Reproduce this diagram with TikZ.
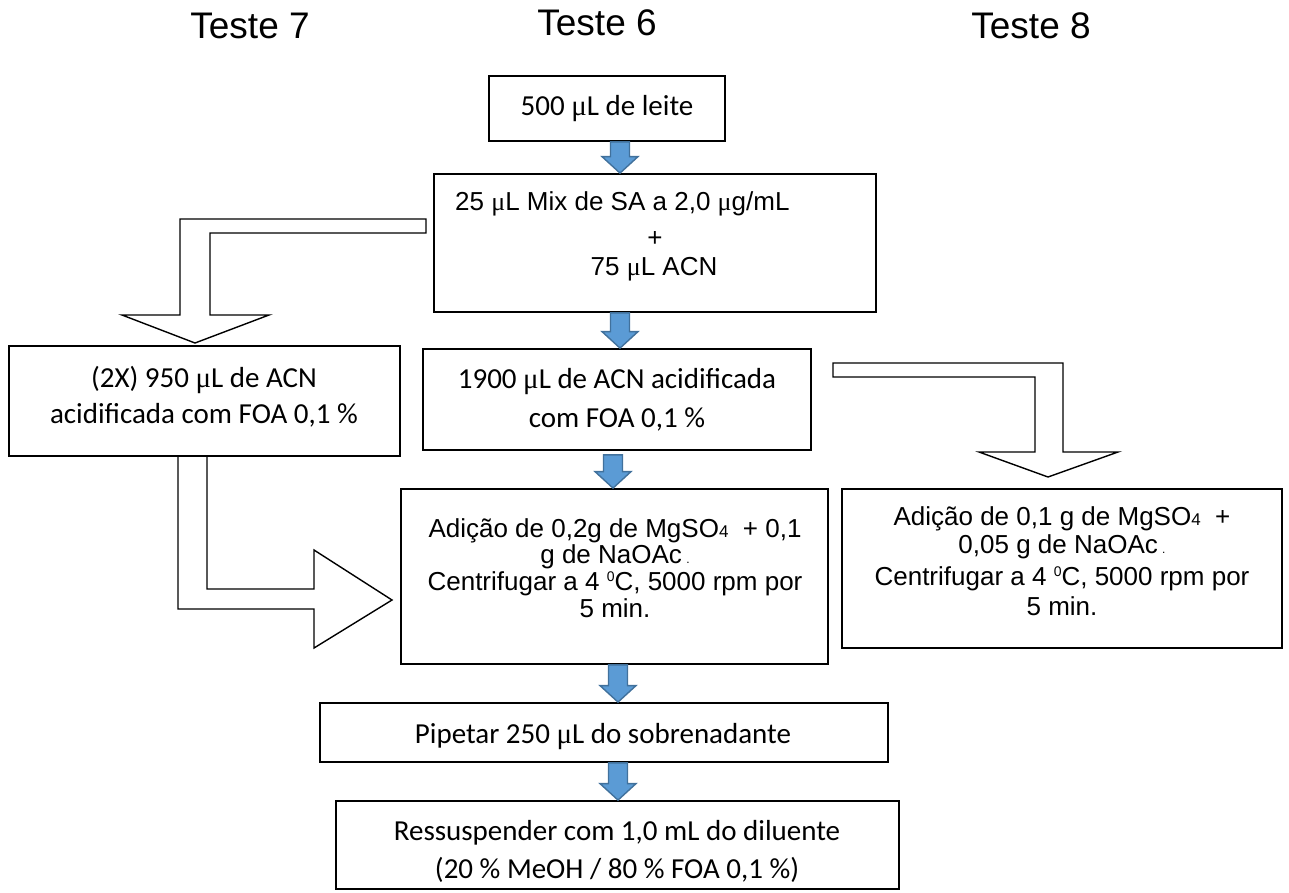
\documentclass[tikz,border=0pt]{standalone}
\usepackage{fontspec}
\setmainfont{Liberation Sans}
\newfontfamily\calib{Carlito}
\newfontfamily\grserif{Liberation Serif}
\usetikzlibrary{calc}
\definecolor{arrowfill}{HTML}{5B9BD5}
\definecolor{arrowedge}{HTML}{41719C}
% serif micro sign, as set in the lab protocol
\newcommand\mug{{\grserif μ}}
% small index digit (MgSO4)
\newcommand\idx[1]{{\fontsize{17}{17}\selectfont #1}}
% small raised zero for degrees
\newcommand\degzero{\raisebox{8.5pt}{\fontsize{14}{14}\selectfont 0}}
% tiny trailing dot after NaOAc
\newcommand\tdot{\,{\fontsize{12}{12}\selectfont .}}
% blue block arrow: start point, tip point, x position (pt)
\newcommand\bluearrow[3]{%
  \draw[blockarrow] let \p1=#1, \p2=#2 in
    ({#3pt-9.5pt},\y1) -- ({#3pt+9.5pt},\y1) -- ({#3pt+9.5pt},\y2+16.5pt)
    -- ({#3pt+18pt},\y2+16.5pt) -- (#3pt,\y2) -- ({#3pt-18pt},\y2+16.5pt)
    -- ({#3pt-9.5pt},\y2+16.5pt) -- cycle;}
\begin{document}
\begin{tikzpicture}[x=1pt,y=-1pt,
  box/.style={draw, line width=1.8pt, inner sep=0pt},
  hollow/.style={draw, fill=white, line width=1.4pt, line join=miter},
  blockarrow/.style={draw=arrowedge, fill=arrowfill, line width=1.4pt, line join=miter},
  txt/.style={inner sep=0pt, anchor=base, font=\fontsize{26}{30}\selectfont},
  ctxt/.style={inner sep=0pt, anchor=base, font=\calib\fontsize{29}{35}\selectfont},
  title/.style={inner sep=0pt, anchor=base, font=\fontsize{37}{44}\selectfont}]
\useasboundingbox (0,0) rectangle (1289,892);

% column headings
\node[title] (h7) at (250,38) {Teste 7};
\node[title] (h6) at (597,35) {Teste 6};
\node[title] (h8) at (1031,38) {Teste 8};

% bent hollow arrows between the branches
\draw[hollow] (426,219) -- (180,219) -- (180,315) -- (122,315) -- (195,343)
  -- (269,315) -- (210,315) -- (210,233) -- (426,233) -- cycle;
\draw[hollow] (833,363) -- (1063,363) -- (1063,452) -- (1118,452) -- (1048,477)
  -- (979,452) -- (1035,452) -- (1035,377) -- (833,377) -- cycle;
\draw[hollow] (178,456) -- (178,609) -- (314,609) -- (314,648) -- (392,600)
  -- (314,550) -- (314,589) -- (207,589) -- (207,456);

% process boxes
\node[box, minimum width=236pt, minimum height=65pt]  (b1) at (607,108.5) {};
\node[box, minimum width=442pt, minimum height=138pt] (b2) at (655,243) {};
\node[box, minimum width=388pt, minimum height=101pt] (b3) at (617,399.5) {};
\node[box, minimum width=391pt, minimum height=110pt] (bL) at (204.5,401) {};
\node[box, minimum width=427pt, minimum height=175pt] (b4) at (614.5,576.5) {};
\node[box, minimum width=440pt, minimum height=159pt] (bR) at (1062,568.5) {};
\node[box, minimum width=568pt, minimum height=59pt]  (bP) at (604,732.5) {};
\node[box, minimum width=563pt, minimum height=88pt]  (bS) at (617.5,845) {};

% box texts
\node[ctxt] (t1) at (607,115) {500 \mug L de leite};

\node[txt, anchor=base west] (t2a) at (455,210) {25 \mug L Mix de SA a 2,0 \mug g/mL};
\node[txt] (t2b) at (655,246) {+};
\node[txt] (t2c) at (654,275) {75 \mug L ACN};

\node[ctxt] (t3a) at (617,388) {1900 \mug L de ACN acidificada};
\node[ctxt] (t3b) at (617,427) {com FOA 0,1 \%};

\node[ctxt] (tLa) at (204,387) {(2X) 950 \mug L de ACN};
\node[ctxt] (tLb) at (204,423) {acidificada com FOA 0,1 \%};

\node[txt] (t4a) at (615,537) {Adição de 0,2g de MgSO\idx{4}\ \ + 0,1};
\node[txt] (t4b) at (615,563.5) {g de NaOAc\tdot};
\node[txt] (t4c) at (615,590) {Centrifugar a 4 \degzero C, 5000 rpm por};
\node[txt] (t4d) at (615,617) {5 min.};

\node[txt] (tRa) at (1062,525) {Adição de 0,1 g de MgSO\idx{4}\ \ +};
\node[txt] (tRb) at (1062,553) {0,05 g de NaOAc\tdot};
\node[txt] (tRc) at (1062,585) {Centrifugar a 4 \degzero C, 5000 rpm por};
\node[txt] (tRd) at (1062,615) {5 min.};

\node[ctxt] (tP) at (603,743) {Pipetar 250 \mug L do sobrenadante};

\node[ctxt] (tSa) at (617,840) {Ressuspender com 1,0 mL do diluente};
\node[ctxt] (tSb) at (617,878) {(20 \% MeOH / 80 \% FOA 0,1 \%)};

% blue flow arrows down the main column
\bluearrow{(b1.south)}{(b2.north)}{620}
\bluearrow{(b2.south)}{(b3.north)}{620}
\bluearrow{([yshift=-4pt]b3.south)}{(b4.north)}{613}
\bluearrow{(b4.south)}{(bP.north)}{618}
\bluearrow{(bP.south)}{(bS.north)}{618}
\end{tikzpicture}
\end{document}
